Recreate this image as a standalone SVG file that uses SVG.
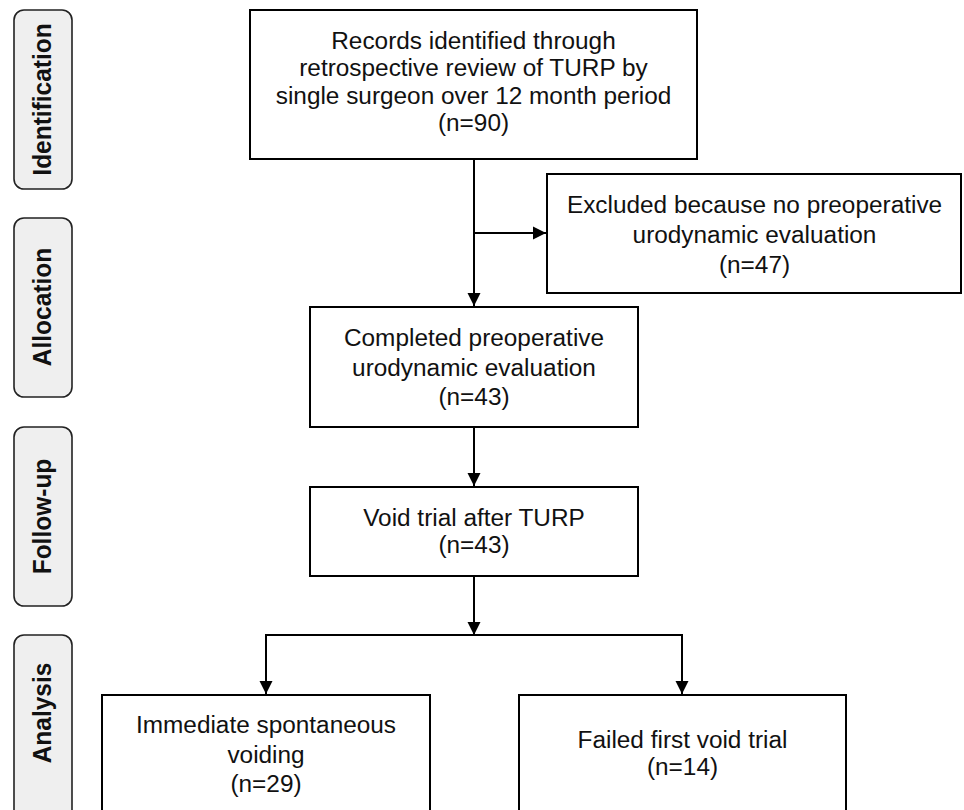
<svg xmlns="http://www.w3.org/2000/svg" width="964" height="810" viewBox="0 0 964 810">
<defs>
<style>
.box{fill:#fff;stroke:#000;stroke-width:2}
.pill{fill:#efefef;stroke:#222;stroke-width:1.6}
.t{font-family:"Liberation Sans",Arial,sans-serif;font-size:23px;fill:#111;text-anchor:middle}
.s{font-family:"Liberation Sans",Arial,sans-serif;font-size:24.5px;font-weight:bold;fill:#111;text-anchor:middle}
.c{fill:none;stroke:#000;stroke-width:2}
</style>
<marker id="ah" markerUnits="userSpaceOnUse" markerWidth="14" markerHeight="14" refX="13" refY="7" orient="auto">
<path d="M0,0.5 L13,7 L0,13.5 z" fill="#000"/>
</marker>
</defs>
<rect width="964" height="810" fill="#fff"/>

<g id="stage-identification">
<rect class="pill" x="14" y="10" width="58" height="179" rx="10"/>
<text class="s" transform="matrix(0 -1 1.08 0 51 99.5)">Identification</text>
</g>
<g id="stage-allocation">
<rect class="pill" x="14" y="218" width="58" height="179" rx="10"/>
<text class="s" transform="matrix(0 -1 1.08 0 51 307)">Allocation</text>
</g>
<g id="stage-followup">
<rect class="pill" x="14" y="427" width="58" height="179" rx="10"/>
<text class="s" transform="matrix(0 -1 1.08 0 51 516.5)">Follow-up</text>
</g>
<g id="stage-analysis">
<rect class="pill" x="14" y="635" width="58" height="185" rx="10"/>
<text class="s" transform="matrix(0 -1 1.08 0 51 713)">Analysis</text>
</g>

<g id="connectors">
<path class="c" d="M474,159 V306" marker-end="url(#ah)"/>
<path class="c" d="M474,233 H546" marker-end="url(#ah)"/>
<path class="c" d="M474,427 V486" marker-end="url(#ah)"/>
<path class="c" d="M474,576 V635" marker-end="url(#ah)"/>
<path class="c" d="M474,635 H266 V694" marker-end="url(#ah)"/>
<path class="c" d="M474,635 H682 V694" marker-end="url(#ah)"/>
</g>

<g id="records">
<rect class="box" x="250" y="10" width="447" height="149"/>
<g transform="matrix(1.06 0 0 1 473.5 0)">
<text class="t" x="0" y="49">Records identified through</text>
<text class="t" x="0" y="76.5">retrospective review of TURP by</text>
<text class="t" x="0" y="104">single surgeon over 12 month period</text>
<text class="t" x="0" y="131.5">(n=90)</text>
</g>
</g>

<g id="excluded">
<rect class="box" x="547" y="174" width="414" height="119"/>
<g transform="matrix(1.06 0 0 1 754.5 0)">
<text class="t" x="0" y="213">Excluded because no preoperative</text>
<text class="t" x="0" y="243">urodynamic evaluation</text>
<text class="t" x="0" y="273">(n=47)</text>
</g>
</g>

<g id="completed">
<rect class="box" x="310" y="307" width="328" height="120"/>
<g transform="matrix(1.06 0 0 1 474 0)">
<text class="t" x="0" y="346.5">Completed preoperative</text>
<text class="t" x="0" y="376">urodynamic evaluation</text>
<text class="t" x="0" y="405">(n=43)</text>
</g>
</g>

<g id="void-trial">
<rect class="box" x="310" y="487" width="328" height="89"/>
<g transform="matrix(1.06 0 0 1 474 0)">
<text class="t" x="0" y="526">Void trial after TURP</text>
<text class="t" x="0" y="553.5">(n=43)</text>
</g>
</g>

<g id="immediate">
<rect class="box" x="102" y="695" width="328" height="125"/>
<g transform="matrix(1.06 0 0 1 266 0)">
<text class="t" x="0" y="733">Immediate spontaneous</text>
<text class="t" x="0" y="763">voiding</text>
<text class="t" x="0" y="792">(n=29)</text>
</g>
</g>

<g id="failed">
<rect class="box" x="519" y="695" width="327" height="125"/>
<g transform="matrix(1.06 0 0 1 682.5 0)">
<text class="t" x="0" y="748">Failed first void trial</text>
<text class="t" x="0" y="775">(n=14)</text>
</g>
</g>
</svg>
